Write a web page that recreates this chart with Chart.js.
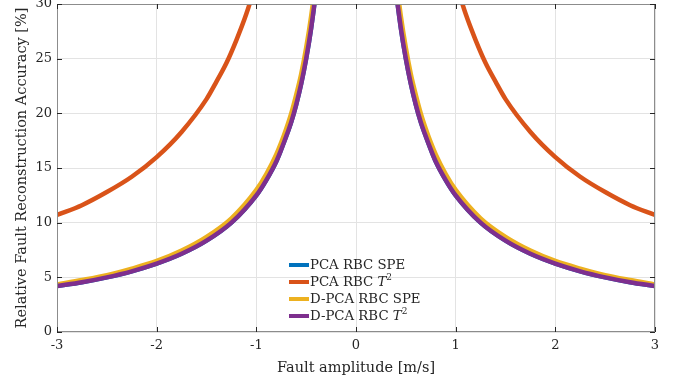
<!DOCTYPE html>
<html>
<head>
<meta charset="utf-8">
<script src="https://cdn.jsdelivr.net/npm/chart.js@4/dist/chart.umd.min.js"></script>
<style>
  html,body{margin:0;padding:0;background:#fff;}
  #wrap{position:relative;width:683px;height:381px;}
  #legend{position:absolute;left:289px;top:256px;font-family:"DejaVu Serif",serif;font-size:13.3px;color:#262626;line-height:17px;}
  #legend div{display:flex;align-items:center;white-space:nowrap;}
  #legend span.sw{display:inline-block;width:20px;height:4px;margin-right:1px;}
  sup{font-size:9px;vertical-align:6px;line-height:0;}
</style>
</head>
<body>
<div id="wrap">
<canvas id="c" width="683" height="381"></canvas>
<div id="legend"></div>
</div>
<script>
// ---- data ----
const seriesNames = ["PCA RBC SPE", "PCA RBC T2", "D-PCA RBC SPE", "D-PCA RBC T2"];
const xTicks = [-3, -2, -1, 0, 1, 2, 3];
const yTicks = [0, 5, 10, 15, 20, 25, 30];

// x positions of the read points (null separates the two branches)
const xInner = [-3, -2.75, -2.5, -2.25, -2, -1.75, -1.5, -1.25, -1, -0.9, -0.8, -0.75, -0.7, -0.65, -0.6, -0.55, -0.5, -0.45, -0.4, -0.38,
                0, 0.38, 0.4, 0.45, 0.5, 0.55, 0.6, 0.65, 0.7, 0.75, 0.8, 0.9, 1, 1.25, 1.5, 1.75, 2, 2.25, 2.5, 2.75, 3];
const pcaSpe  = [4.2, 4.55, 5.0, 5.55, 6.25, 7.15, 8.35, 10.0, 12.5, 13.9, 15.6, 16.7, 17.9, 19.2, 20.8, 22.7, 25.0, 27.8, 31.3, 33.0,
                 null, 33.0, 31.3, 27.8, 25.0, 22.7, 20.8, 19.2, 17.9, 16.7, 15.6, 13.9, 12.5, 10.0, 8.35, 7.15, 6.25, 5.55, 5.0, 4.55, 4.2];
const dpcaSpe = [4.35, 4.75, 5.2, 5.8, 6.5, 7.45, 8.7, 10.4, 13.0, 14.45, 16.25, 17.35, 18.6, 20.0, 21.7, 23.6, 26.0, 28.9, 32.5, 34.2,
                 null, 34.2, 32.5, 28.9, 26.0, 23.6, 21.7, 20.0, 18.6, 17.35, 16.25, 14.45, 13.0, 10.4, 8.7, 7.45, 6.5, 5.8, 5.2, 4.75, 4.35];
const dpcaT2  = [4.2, 4.55, 5.0, 5.55, 6.25, 7.15, 8.35, 10.0, 12.5, 13.9, 15.6, 16.7, 17.9, 19.2, 20.8, 22.7, 25.0, 27.8, 31.3, 33.0,
                 null, 33.0, 31.3, 27.8, 25.0, 22.7, 20.8, 19.2, 17.9, 16.7, 15.6, 13.9, 12.5, 10.0, 8.35, 7.15, 6.25, 5.55, 5.0, 4.55, 4.2];
const xOuter = [-3, -2.75, -2.5, -2.25, -2, -1.75, -1.5, -1.4, -1.3, -1.2, -1.1, -1.0, 0, 1.0, 1.1, 1.2, 1.3, 1.4, 1.5, 1.75, 2, 2.25, 2.5, 2.75, 3];
const pcaT2   = [10.7, 11.6, 12.8, 14.2, 16.0, 18.3, 21.3, 22.9, 24.6, 26.7, 29.1, 32.0, null, 32.0, 29.1, 26.7, 24.6, 22.9, 21.3, 18.3, 16.0, 14.2, 12.8, 11.6, 10.7];

const colors = ["#0072BD", "#D95319", "#EDB120", "#7E2F8E"];

function pts(xs, ys){ return xs.map((x,i)=>({x:x, y:ys[i]})); }

const FONT = '"DejaVu Serif",serif';
const dsCommon = {showLine:true, pointRadius:0, borderWidth:4.5, cubicInterpolationMode:'monotone', spanGaps:false, clip:0, fill:false};

const boxPlugin = {
  id:'box',
  afterDraw(chart){
    const {ctx, chartArea:a, scales} = chart;
    ctx.save();
    ctx.strokeStyle = '#8c8c8c';
    ctx.lineWidth = 1;
    ctx.strokeRect(a.left+0.5, a.top+0.5, a.right-a.left-1, a.bottom-a.top-1);
    ctx.strokeStyle = '#262626';
    const L = 5;
    xTicks.forEach(v=>{
      const px = Math.round(scales.x.getPixelForValue(v))+0.5;
      ctx.beginPath(); ctx.moveTo(px, a.bottom); ctx.lineTo(px, a.bottom-L); ctx.stroke();
      ctx.beginPath(); ctx.moveTo(px, a.top); ctx.lineTo(px, a.top+L); ctx.stroke();
    });
    yTicks.forEach(v=>{
      const py = Math.round(scales.y.getPixelForValue(v))+0.5;
      ctx.beginPath(); ctx.moveTo(a.left, py); ctx.lineTo(a.left+L, py); ctx.stroke();
      ctx.beginPath(); ctx.moveTo(a.right, py); ctx.lineTo(a.right-L, py); ctx.stroke();
    });
    ctx.restore();
  }
};

new Chart(document.getElementById('c'), {
  type:'scatter',
  data:{
    datasets:[
      Object.assign({label:seriesNames[0], order:3, data:pts(xInner,pcaSpe),  borderColor:colors[0], backgroundColor:colors[0]}, dsCommon),
      Object.assign({label:seriesNames[1], order:2, data:pts(xOuter,pcaT2),   borderColor:colors[1], backgroundColor:colors[1]}, dsCommon),
      Object.assign({label:seriesNames[2], order:1, data:pts(xInner,dpcaSpe), borderColor:colors[2], backgroundColor:colors[2]}, dsCommon),
      Object.assign({label:seriesNames[3], order:0, data:pts(xInner,dpcaT2),  borderColor:colors[3], backgroundColor:colors[3]}, dsCommon)
    ]
  },
  options:{
    responsive:false,
    animation:false,
    layout:{padding:{top:4, right:28, left:0, bottom:0}},
    plugins:{legend:{display:false}, tooltip:{enabled:false}},
    scales:{
      x:{
        type:'linear', min:-3, max:3,
        afterBuildTicks(s){ s.ticks = xTicks.map(v=>({value:v})); },
        afterFit(s){ s.height = 49; s.paddingLeft = 0; s.paddingRight = 0; },
        grid:{color:'#e3e3e3', drawTicks:false},
        border:{display:false},
        ticks:{padding:6, color:'#262626', font:{family:FONT, size:13}, maxRotation:0},
        title:{display:true, text:'Fault amplitude [m/s]', color:'#262626', font:{family:FONT, size:14.5}, padding:{top:2}}
      },
      y:{
        type:'linear', min:0, max:30,
        afterBuildTicks(s){ s.ticks = yTicks.map(v=>({value:v})); },
        afterFit(s){ s.width = 57; s.paddingTop = 0; s.paddingBottom = 0; },
        grid:{color:'#e3e3e3', drawTicks:false},
        border:{display:false},
        ticks:{padding:5, color:'#262626', font:{family:FONT, size:13}},
        title:{display:true, text:'Relative Fault Reconstruction Accuracy [%]', color:'#262626', font:{family:FONT, size:14.5}, padding:{top:14, bottom:0}}
      }
    }
  },
  plugins:[boxPlugin]
});

// HTML legend with italic T and superscript
const leg = document.getElementById('legend');
seriesNames.forEach((n,i)=>{
  const d = document.createElement('div');
  const sw = document.createElement('span'); sw.className='sw'; sw.style.background = colors[i];
  d.appendChild(sw);
  const t = document.createElement('span');
  if (n.endsWith('T2')) { t.innerHTML = n.slice(0,-2) + '<i>T</i><sup>2</sup>'; }
  else t.textContent = n;
  d.appendChild(t);
  leg.appendChild(d);
});
</script>
</body>
</html>
